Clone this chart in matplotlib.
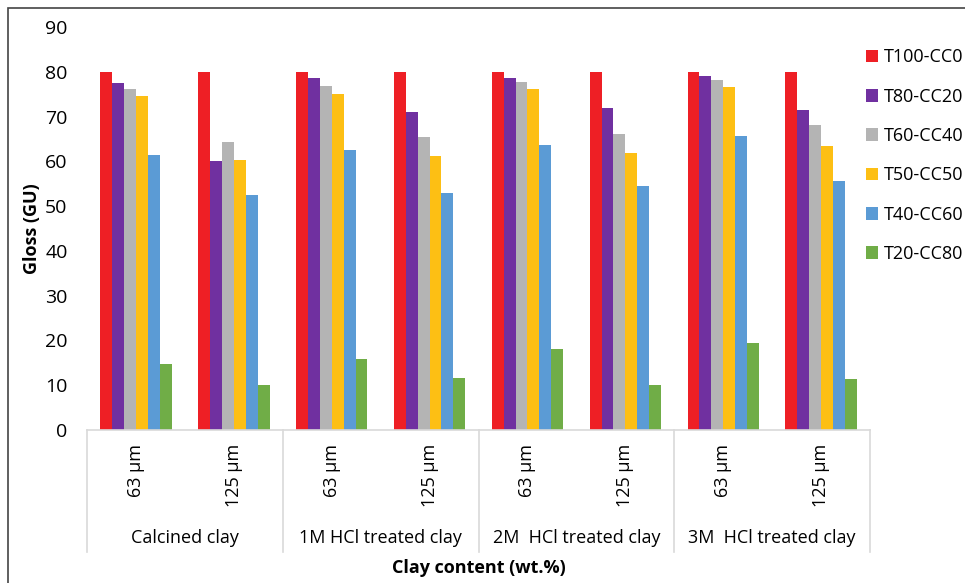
import numpy as np
import matplotlib
matplotlib.use('Agg')
import matplotlib.pyplot as plt
from matplotlib.patches import Rectangle
from matplotlib.transforms import blended_transform_factory

plt.rcParams['font.family'] = ['Open Sans', 'DejaVu Sans']

# ---- data: gloss (GU) per coating, per clay treatment / particle size ----
groups = ['Calcined clay', '1M HCl treated clay', '2M  HCl treated clay', '3M  HCl treated clay']
sizes = ['63 µm', '125 µm']
series = ['T100-CC0', 'T80-CC20', 'T60-CC40', 'T50-CC50', 'T40-CC60', 'T20-CC80']

t100_cc0 = [80.0, 80.0, 80.0, 80.0, 80.0, 80.0, 80.0, 80.0]
t80_cc20 = [77.5, 60.0, 78.5, 71.0, 78.6, 71.9, 79.0, 71.4]
t60_cc40 = [76.1, 64.4, 76.9, 65.5, 77.7, 66.1, 78.2, 68.2]
t50_cc50 = [74.7, 60.3, 75.1, 61.2, 76.1, 61.9, 76.5, 63.5]
t40_cc60 = [61.5, 52.4, 62.6, 53.0, 63.6, 54.5, 65.6, 55.7]
t20_cc80 = [14.8, 10.1, 15.9, 11.6, 18.0, 10.0, 19.5, 11.3]

colors = ['#EE1F25', '#7030A0', '#B4B4B4', '#FDBF14', '#5B9BD5', '#70AD47']

fig = plt.figure(figsize=(9.65, 5.83), dpi=100)
ax = fig.add_axes([0.0902, 0.2624, 0.8114, 0.6913])

values = [t100_cc0, t80_cc20, t60_cc40, t50_cc50, t40_cc60, t20_cc80]
n_cat = len(groups) * len(sizes)
x = np.arange(n_cat)
bw = 0.1215
for i, (vals, c, lab) in enumerate(zip(values, colors, series)):
    ax.bar(x + (i - 2.5) * bw, vals, width=bw, color=c, label=lab)

ax.set_xlim(-0.5, n_cat - 0.5)
ax.set_ylim(0, 90)
ax.set_yticks(np.arange(0, 91, 10))
ax.tick_params(axis='y', length=0, labelsize=14, pad=14)
ax.set_xticks([])
for s in ['top', 'right', 'left']:
    ax.spines[s].set_visible(False)
ax.spines['bottom'].set_color('#d9d9d9')
ax.spines['bottom'].set_linewidth(1.2)

# two-level category axis below the bars
tr = blended_transform_factory(ax.transData, ax.transAxes)
for b in np.arange(-0.5, n_cat, 2):
    ax.plot([b, b], [0, -0.303], transform=tr, color='#d9d9d9', lw=1.2, clip_on=False)
for k in range(n_cat):
    ax.text(k, -0.035, sizes[k % 2], transform=tr, rotation=90, ha='center', va='top', fontsize=13)
for g, name in enumerate(groups):
    ax.text(2 * g + 0.5, -0.268, name, transform=tr, ha='center', va='center', fontsize=13)

ax.set_ylabel('Gloss (GU)', fontsize=13, fontweight='bold', labelpad=3)
fig.text(0.496, 0.026, 'Clay content (wt.%)', ha='center', va='center', fontsize=13, fontweight='bold')

ax.legend(loc='upper left', bbox_to_anchor=(0.897, 0.917), bbox_transform=fig.transFigure,
          frameon=False, fontsize=13, handlelength=0.7, handleheight=0.7,
          handletextpad=0.3, labelspacing=1.18, borderaxespad=0, borderpad=0)

# outer frame
fig.patches.append(Rectangle((8 / 965, -0.1), 1.2, 1 - 8 / 583 + 0.1, transform=fig.transFigure,
                             fill=False, edgecolor='#444444', lw=1.2))

fig.savefig('out.png', dpi=100)
